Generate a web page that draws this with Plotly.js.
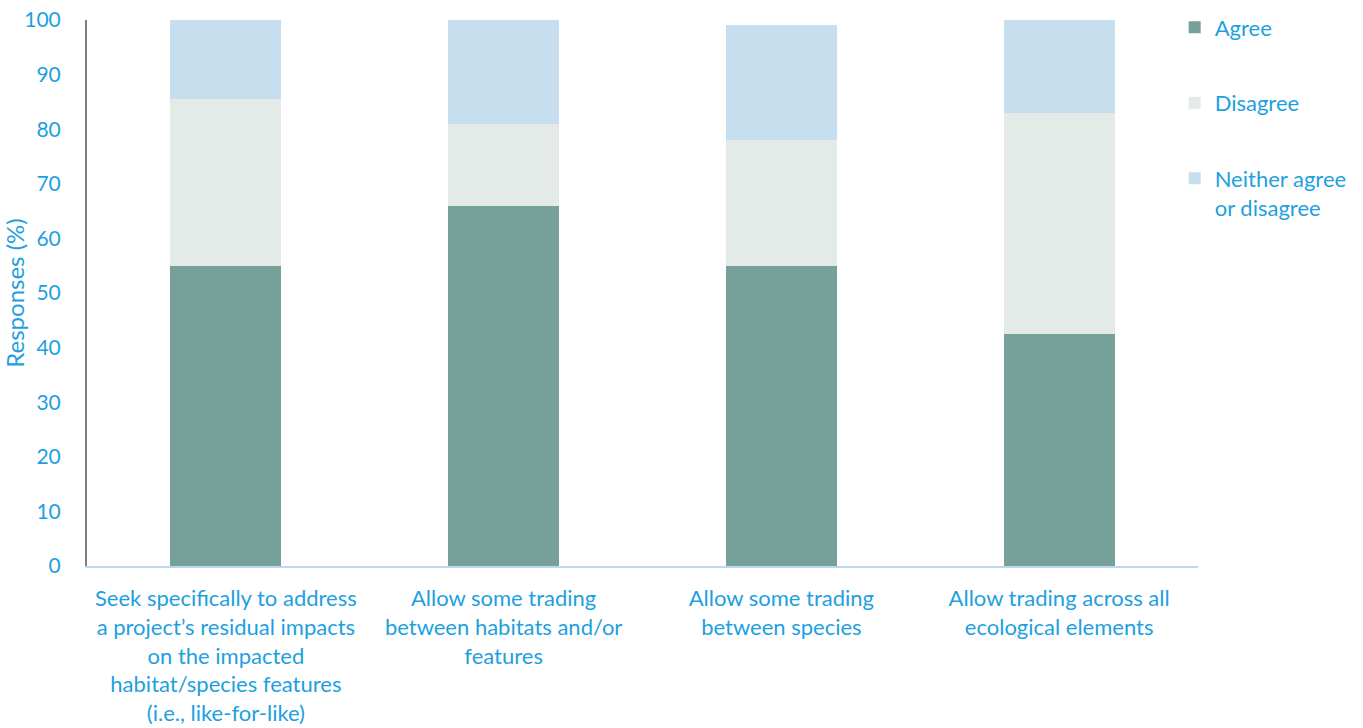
<!DOCTYPE html>
<html>
<head>
<meta charset="utf-8">
<script src="https://cdn.plot.ly/plotly-3.0.1.min.js"></script>
<style>html,body{margin:0;padding:0;background:#fff;}#chart{width:1363px;height:728px;}</style>
</head>
<body>
<div id="chart"></div>
<script>
const categories = [
  "Seek specifically to address<br>a project’s residual impacts<br>on the impacted<br>habitat/species features<br>(i.e., like-for-like)",
  "Allow some trading<br>between habitats and/or<br>features",
  "Allow some trading<br>between species",
  "Allow trading across all<br>ecological elements"
];
const agree = [55, 66, 55, 42.5];
const disagree = [30.6, 15, 23, 40.5];
const neither = [14.4, 19, 21, 17];
const seriesNames = ["Agree", "Disagree", "Neither agree<br>or disagree"];
const yTicks = [0, 10, 20, 30, 40, 50, 60, 70, 80, 90, 100];

const blue = "#1E9FE0";
const font = "Lato, 'Open Sans', sans-serif";
const xIdx = [0, 1, 2, 3];

const colors = ["#76A09A", "#E3EAE8", "#C7DEEE"];
const data = [agree, disagree, neither].map((vals, i) => ({
  type: "bar",
  x: xIdx,
  y: vals,
  name: seriesNames[i],
  legendgroup: "g" + i,
  marker: { color: colors[i], line: { width: 0 } },
  hoverinfo: "name+y"
}));

const layout = {
  width: 1363,
  height: 728,
  margin: { l: 87, r: 165, t: 20, b: 162, autoexpand: false },
  paper_bgcolor: "#ffffff",
  plot_bgcolor: "#ffffff",
  barmode: "stack",
  bargap: 0.6,
  font: { family: font, color: blue, size: 22 },
  showlegend: true,
  legend: {
    x: 0.979, xanchor: "left", y: 1.025, yanchor: "top",
    traceorder: "grouped",
    tracegroupgap: 44,
    valign: "top",
    font: { family: font, size: 22, color: blue },
    bgcolor: "rgba(0,0,0,0)"
  },
  xaxis: {
    tickmode: "array",
    tickvals: xIdx,
    ticktext: categories,
    range: [-0.5, 3.5],
    showgrid: false,
    zeroline: false,
    showline: true,
    linecolor: "#BDD7EE",
    linewidth: 2,
    ticks: "",
    ticklabelstandoff: 12,
    tickfont: { family: font, size: 22, color: blue },
    automargin: false,
    fixedrange: true
  },
  yaxis: {
    range: [0, 100],
    tickmode: "array",
    tickvals: yTicks,
    ticktext: yTicks.map(String),
    showgrid: false,
    zeroline: false,
    showline: true,
    linecolor: "#7F7F7F",
    linewidth: 2,
    ticks: "",
    ticklabelstandoff: 20,
    tickfont: { family: font, size: 21, color: blue },
    title: { text: "Responses (%)", font: { family: font, size: 24, color: blue }, standoff: 2 },
    automargin: true,
    fixedrange: true
  }
};

Plotly.newPlot("chart", data, layout, { displayModeBar: false, staticPlot: false });
</script>
</body>
</html>
